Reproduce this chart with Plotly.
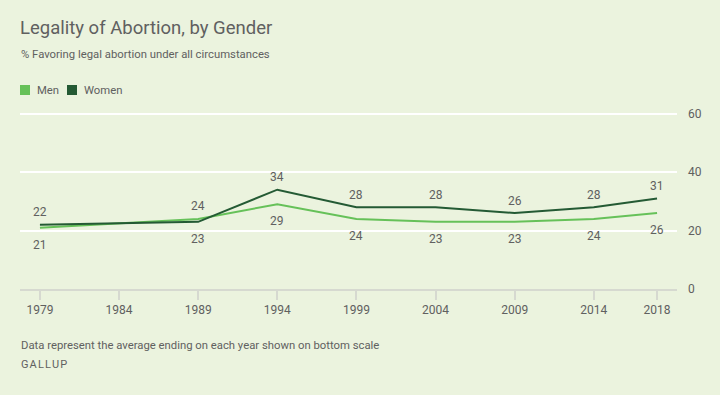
import plotly.graph_objects as go

years = [1979, 1989, 1994, 1999, 2004, 2009, 2014, 2018]
men = [21, 24, 29, 24, 23, 23, 24, 26]
women = [22, 23, 34, 28, 28, 26, 28, 31]
tick_years = [1979, 1984, 1989, 1994, 1999, 2004, 2009, 2014, 2018]
y_ticks = [0, 20, 40, 60]

MEN_C = "#66c159"
WOMEN_C = "#245a34"
TXT = "#606060"
BG = "#ebf3de"
FONT = "Roboto"

fig = go.Figure()
fig.add_trace(go.Scatter(x=years, y=men, mode="lines", line=dict(color=MEN_C, width=2),
                         showlegend=False, hoverinfo="x+y"))
fig.add_trace(go.Scatter(x=years, y=women, mode="lines", line=dict(color=WOMEN_C, width=2),
                         showlegend=False, hoverinfo="x+y"))

# value labels: the higher series above its line, the lower one below
for x, m, w in zip(years, men, women):
    m_up = m > w
    fig.add_annotation(x=x, y=m, text=str(m), showarrow=False, xref="x", yref="y",
                       yshift=12.5 if m_up else -17, font=dict(size=12, color=TXT, family=FONT))
    fig.add_annotation(x=x, y=w, text=str(w), showarrow=False, xref="x", yref="y",
                       yshift=-17 if m_up else 12.5, font=dict(size=12, color=TXT, family=FONT))

fig.update_layout(
    width=720, height=395,
    margin=dict(l=20, r=43, t=112, b=106),
    paper_bgcolor=BG, plot_bgcolor=BG,
    font=dict(family=FONT, color=TXT),
    showlegend=False,
    xaxis=dict(range=[1977.74, 2019.26], tickvals=tick_years, ticktext=[str(y) for y in tick_years],
               showgrid=False, zeroline=False, showline=True, linecolor="#d6d9d0", linewidth=2,
               ticks="outside", ticklen=9, tickcolor="#d6d9d0", tickwidth=2,
               tickfont=dict(size=12, color=TXT, family=FONT)),
    yaxis=dict(range=[0, 60.6], tickvals=y_ticks, side="right", showgrid=True, gridcolor="white",
               gridwidth=2, zeroline=False, showline=False, ticks="", ticklabelstandoff=10,
               tickfont=dict(size=12, color=TXT, family=FONT)),
)

PH = 395 - 112 - 106  # plot height in px
PW = 720 - 20 - 43


def py(pixel_y):
    return (395 - 106 - pixel_y) / PH


def ann(text, x, y, size, color=TXT, **kw):
    fig.add_annotation(text=text, xref="paper", yref="paper", x=x, y=y, xanchor="left",
                       yanchor="middle", showarrow=False, font=dict(size=size, color=color, family=FONT), **kw)


ann("Legality of Abortion, by Gender", -0.003, py(28), 18.5)
ann("% Favoring legal abortion under all circumstances", -0.001, py(55), 11.3)
ann("Data represent the average ending on each year shown on bottom scale", -0.001, py(345), 11.3)
ann("G\u200aA\u200aL\u200aL\u200aU\u200aP", -0.001, py(364), 11)


def legend_item(x_px, color, label):
    fig.add_shape(type="rect", xref="paper", yref="paper", x0=x_px / PW, x1=(x_px + 10) / PW,
                  y0=py(95), y1=py(85), fillcolor=color, line=dict(width=0))
    ann(label, (x_px + 15) / PW, py(90), 11.3)


legend_item(0, MEN_C, "Men")
legend_item(47, WOMEN_C, "Women")

fig.write_html("out.html", config={"displayModeBar": False},
               post_script="document.body.style.margin='0';")
